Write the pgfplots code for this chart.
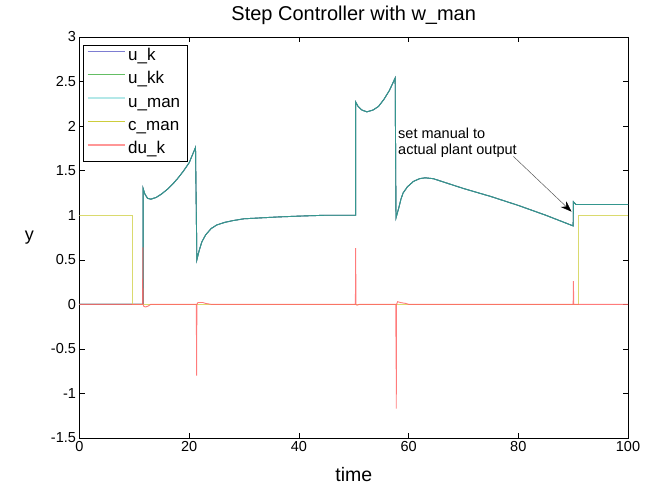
\documentclass[border=0pt]{standalone}
\usepackage{pgfplots}
\pgfplotsset{compat=1.18}
\usepackage{fontspec}
\setmainfont{Liberation Sans}
\usetikzlibrary{arrows.meta,calc}
\definecolor{ukleg}{RGB}{125,125,210}
\definecolor{ukkleg}{RGB}{100,190,100}
\definecolor{umanleg}{RGB}{180,232,232}
\definecolor{cmanleg}{RGB}{205,205,60}
\definecolor{dukleg}{RGB}{255,150,150}
\definecolor{ukline}{RGB}{90,90,180}
\definecolor{ukkline}{RGB}{60,150,100}
\definecolor{umanline}{RGB}{50,150,160}
\definecolor{cmanline}{RGB}{218,218,110}
\definecolor{dukline}{RGB}{255,100,100}

\pgfplotstableread{
x y
0 0
11.6 0
11.6 1.30
11.9 1.24
12.4 1.19
13.0 1.18
14 1.20
15 1.24
16 1.29
17 1.35
18 1.42
19 1.50
20 1.59
21.15 1.76
21.4 0.50
21.8 0.60
22.3 0.70
23.0 0.78
24 0.85
25 0.89
26.5 0.92
28 0.94
30 0.96
33 0.97
36 0.98
40 0.99
45 1.0
50.35 1.0
50.35 2.27
50.8 2.22
51.5 2.18
52.4 2.16
53.5 2.18
54.5 2.22
55.5 2.30
56.5 2.40
57.55 2.54
57.7 0.97
58.2 1.08
58.6 1.18
59.0 1.25
59.8 1.32
60.9 1.38
62 1.41
63 1.42
64.5 1.41
66 1.38
70 1.30
75 1.21
80 1.11
85 1.00
90 0.88
90.05 1.15
90.5 1.12
91 1.12
100 1.12
}\udata

\pgfplotstableread{
x y
0 1
9.7 1
9.7 0
90.95 0
90.95 1
100 1
}\cman

\pgfplotstableread{
x y
0 0
11.5 0
11.55 0.64
11.6 0
11.7 -0.02
12.0 -0.03
12.5 -0.02
13 0
21.3 0
21.35 -0.80
21.4 0
21.6 0.02
22.5 0.02
23 0.01
24 0
50.3 0
50.35 0.63
50.4 0
50.6 -0.01
51 0
57.65 0
57.7 -0.42
57.72 0
57.75 -1.17
57.8 0
58.0 0.03
58.5 0.02
59.5 0.01
60 0
90.0 0
90.05 0.26
90.1 0
91 0
100 0
}\duk

\begin{document}
\begin{tikzpicture}
\begin{axis}[
  name=ax,
  scale only axis,
  width=548.5pt, height=401pt,
  xmin=0, xmax=100, ymin=-1.5, ymax=3,
  xtick={0,20,40,60,80,100},
  ytick={-1.5,-1,-0.5,0,0.5,1,1.5,2,2.5,3},
  yticklabels={-1.5,-1,-0.5,0,0.5,1,1.5,2,2.5,3},
  tick align=inside,
  major tick length=5pt,
  axis line style={line width=0.6pt, black},
  tick style={line width=0.5pt, black},
  tick label style={font=\fontsize{14.5}{16}\selectfont},
  /pgf/number format/assume math mode=true,
  title={Step Controller with w\_man},
  title style={at={(0.5,1)}, anchor=base, yshift=10pt, inner sep=0pt, font=\fontsize{20}{22}\selectfont},
  xlabel={time},
  xlabel style={at={(0.5,0)}, anchor=base, yshift=-44pt, inner sep=0pt, font=\fontsize{19.5}{22}\selectfont},
  legend style={at={(0.0055,0.98)}, anchor=north west, draw=black, line width=0.6pt,
    inner xsep=4pt, inner ysep=1pt, font=\fontsize{17}{20}\selectfont,
    row sep=3.4pt, nodes={inner ysep=2pt, inner xsep=3pt, text height=12pt, text depth=4pt}},
  legend cell align=left,
  legend image code/.code={\draw[#1, line width=1.4pt] (0pt,5pt) -- (37pt,5pt);},
]
\addlegendimage{ukleg}
\addlegendimage{ukkleg}
\addlegendimage{umanleg}
\addlegendimage{cmanleg}
\addlegendimage{dukleg}
\legend{u\_k, u\_kk, u\_man, c\_man, du\_k}

\addplot[ukline, line width=0.9pt, forget plot] table[x=x,y=y] {\udata};
\addplot[ukkline, line width=0.9pt, forget plot] table[x=x,y=y] {\udata};
\addplot[umanline, line width=0.9pt, opacity=0.7, forget plot] table[x=x,y=y] {\udata};
\addplot[cmanline, line width=0.9pt, forget plot] table[x=x,y=y] {\cman};
\addplot[dukline, line width=0.9pt, opacity=0.85, forget plot] table[x=x,y=y] {\duk};

\draw[gray!70!black, line width=0.5pt, -{Stealth[black, length=11pt, width=8pt]}] (axis cs:79.1,1.66) -- (axis cs:89.7,1.04);
\node[anchor=base west, inner sep=0pt, font=\fontsize{14.5}{17}\selectfont] at (axis cs:58.07,1.863) {set manual to};
\node[anchor=base west, inner sep=0pt, font=\fontsize{14.5}{17}\selectfont] at (axis cs:58.07,1.676) {actual plant output};
\end{axis}
\node[font=\fontsize{18}{20}\selectfont] at ($(ax.west)+(-50pt,0pt)$) {y};
\pgfresetboundingbox
\path[use as bounding box] ($(ax.south west)+(-79.5pt,-48pt)$) rectangle ($(ax.north east)+(28pt,37pt)$);
\end{tikzpicture}
\end{document}
